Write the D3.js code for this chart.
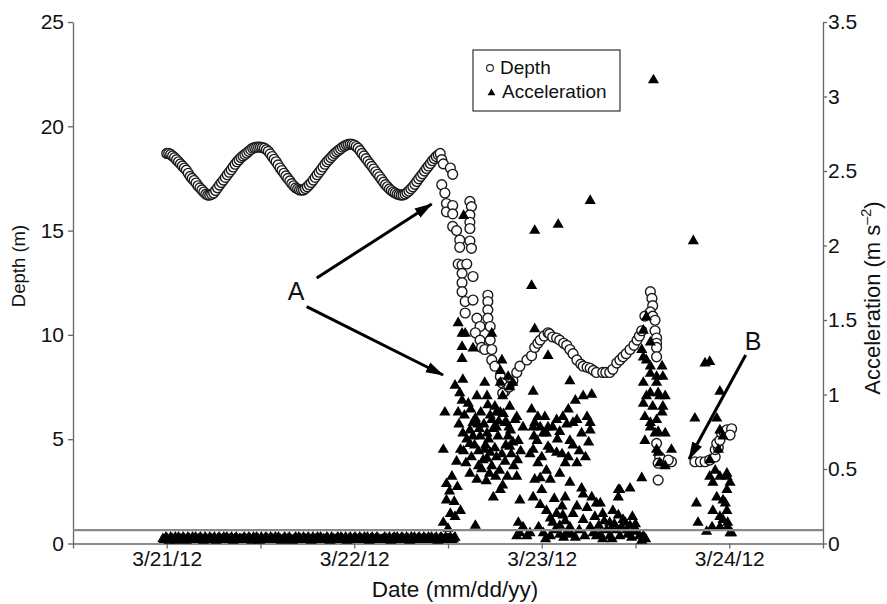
<!DOCTYPE html>
<html>
<head>
<meta charset="utf-8">
<script src="https://cdn.jsdelivr.net/npm/d3@7"></script>
<style>
  body { margin: 0; background: #fff; }
  text { font-family: "Liberation Sans", Arial, Helvetica, sans-serif; fill: #111; }
</style>
</head>
<body>
<div id="wrapper"></div>
<script>
// hours after 3/21/12 00:00, depth in m
const depthTide = [
  [0,18.7],[0.25,18.7],[0.5,18.65],[0.75,18.58],[1,18.5],[1.25,18.4],[1.5,18.3],[1.75,18.2],[2,18.1],[2.25,18.0],
  [2.5,17.9],[2.75,17.75],[3,17.6],[3.25,17.5],[3.5,17.4],[3.75,17.28],[4,17.15],[4.25,17.05],[4.5,16.95],[4.75,16.85],
  [5,16.75],[5.25,16.7],[5.5,16.7],[5.75,16.74],[6,16.8],[6.25,16.92],[6.5,17.05],[6.75,17.18],[7,17.3],[7.25,17.42],
  [7.5,17.55],[7.75,17.68],[8,17.8],[8.25,17.92],[8.5,18.05],[8.75,18.18],[9,18.3],[9.25,18.4],[9.5,18.5],[9.75,18.58],
  [10,18.65],[10.25,18.72],[10.5,18.8],[10.75,18.88],[11,18.95],[11.25,18.98],[11.5,19.0],[11.75,19.0],[12,19.0],[12.25,18.98],
  [12.5,18.95],[12.75,18.88],[13,18.8],[13.25,18.68],[13.5,18.55],[13.75,18.42],[14,18.3],[14.25,18.15],[14.5,18.0],[14.75,17.88],
  [15,17.75],[15.25,17.62],[15.5,17.5],[15.75,17.38],[16,17.25],[16.25,17.15],[16.5,17.05],[16.75,17.0],[17,16.95],[17.25,16.94],
  [17.5,16.95],[17.75,17.02],[18,17.1],[18.25,17.2],[18.5,17.3],[18.75,17.42],[19,17.55],[19.25,17.68],[19.5,17.8],[19.75,17.92],
  [20,18.05],[20.25,18.18],[20.5,18.3],[20.75,18.4],[21,18.5],[21.25,18.6],[21.5,18.7],[21.75,18.78],[22,18.85],[22.25,18.92],
  [22.5,19.0],[22.75,19.05],[23,19.1],[23.25,19.13],[23.5,19.15],[23.75,19.14],[24,19.1],[24.25,19.03],[24.5,18.95],[24.75,18.83],
  [25,18.7],[25.25,18.58],[25.5,18.45],[25.75,18.32],[26,18.2],[26.25,18.08],[26.5,17.95],[26.75,17.82],[27,17.7],[27.25,17.58],
  [27.5,17.45],[27.75,17.32],[28,17.2],[28.25,17.1],[28.5,17.0],[28.75,16.92],[29,16.85],[29.25,16.8],[29.5,16.75],[29.75,16.72],
  [30,16.7],[30.25,16.71],[30.5,16.75],[30.75,16.82],[31,16.9],[31.25,17.0],[31.5,17.1],[31.75,17.22],[32,17.35],[32.25,17.48],
  [32.5,17.6],[32.75,17.72],[33,17.85],[33.25,17.98],[33.5,18.1],[33.75,18.22],[34,18.35],[34.25,18.45],[34.5,18.55],[34.75,18.63],[35,18.7]
];
const depthDrop = [
  [35.2,18.4],[35.4,18.2],[36.3,18.0],[36.6,17.7],[35.2,17.2],[35.6,16.8],[35.8,16.3],[35.8,15.9],[36.6,16.2],[36.6,15.8],
  [38.8,16.4],[39.0,16.15],[38.8,15.75],[38.8,15.4],[38.8,15.1],
  [36.6,15.2],[37.1,15.0],[37.5,14.55],[37.5,14.2],[37.3,13.4],[37.8,13.35],[38.4,13.4],[38.8,14.5],[39.0,14.15],[39.2,12.8],
  [37.8,12.95],[37.8,12.5],[37.8,12.07],[38.2,11.6],[38.2,11.05],[39.2,11.67],
  [41.1,11.9],[41.1,11.6],[41.1,11.2],[41.1,10.8],[41.4,10.4],
  [39.7,10.8],[40.1,10.4],[39.5,10.1],[40.1,9.75],[40.3,9.4],[40.7,9.3],[41.4,9.75],[41.6,9.3],[41.6,8.8],[42.0,8.5],
  [42.7,8.0],[42.9,7.7],[43.3,7.3],[43.0,7.2],[43.8,7.5],[44.3,7.8]
];
const depthHump = [
  [44.8,8.2],[45.2,8.5],[46.1,8.8],[46.7,9.0],[47.1,9.4],[47.5,9.6],[47.8,9.75],[48.3,9.95],[48.8,10.1],[49.0,10.05],
  [49.4,9.9],[49.9,9.85],[50.3,9.75],[50.8,9.6],[51.2,9.5],[51.6,9.3],[52.0,9.1],[52.5,8.8],[53.0,8.6],[53.3,8.5],
  [53.8,8.45],[54.2,8.4],[54.6,8.3],[55.0,8.2],[55.8,8.2],[56.2,8.2],[56.7,8.2],[57.1,8.35],[57.6,8.65],[58.0,8.8],
  [58.4,8.95],[58.8,9.1],[59.3,9.3],[59.8,9.5],[60.2,9.75],[60.5,9.95],[60.8,10.2],[61.2,10.9],[61.9,12.07],[62.1,11.75],
  [62.2,11.4],[61.9,11.1],[62.2,10.9],[62.5,10.7],[62.5,10.2],[62.7,9.85],[62.7,9.6],[62.7,9.4],[62.7,8.95]
];
const depthLate = [
  [62.7,4.8],[63.1,4.15],[62.9,3.85],[64.6,3.92],[64.2,4.0],[62.9,3.04],
  [67.6,3.92],[68.3,3.92],[68.9,3.92],[69.5,4.0],[70.2,4.15],[70.2,4.5],[70.6,4.6],[70.4,4.8],[70.8,4.95],
  [71.0,5.3],[71.3,5.35],[71.7,5.45],[72.3,5.5],[72.1,5.2]
];

// acceleration (m s-2): low band before the event, then the burst
const bandHours = [
  -0.5,-0.3,-0.1,0.1,0.3,0.5,0.7,0.9,1.1,1.3, 1.5,1.7,1.9,2.1,2.3,2.5,2.7,2.9,3.1,3.3,
  3.5,3.7,3.9,4.1,4.3,4.5,4.7,4.9,5.1,5.3, 5.5,5.7,5.9,6.1,6.3,6.5,6.7,6.9,7.1,7.3,
  7.5,7.7,7.9,8.1,8.3,8.5,8.7,8.9,9.1,9.3, 9.5,9.7,9.9,10.1,10.3,10.5,10.7,10.9,11.1,11.3,
  11.5,11.7,11.9,12.1,12.3,12.5,12.7,12.9,13.1,13.3, 13.5,13.7,13.9,14.1,14.3,14.5,14.7,14.9,15.1,15.3,
  15.5,15.7,15.9,16.1,16.3,16.5,16.7,16.9,17.1,17.3, 17.5,17.7,17.9,18.1,18.3,18.5,18.7,18.9,19.1,19.3,
  19.5,19.7,19.9,20.1,20.3,20.5,20.7,20.9,21.1,21.3, 21.5,21.7,21.9,22.1,22.3,22.5,22.7,22.9,23.1,23.3,
  23.5,23.7,23.9,24.1,24.3,24.5,24.7,24.9,25.1,25.3, 25.5,25.7,25.9,26.1,26.3,26.5,26.7,26.9,27.1,27.3,
  27.5,27.7,27.9,28.1,28.3,28.5,28.7,28.9,29.1,29.3, 29.5,29.7,29.9,30.1,30.3,30.5,30.7,30.9,31.1,31.3,
  31.5,31.7,31.9,32.1,32.3,32.5,32.7,32.9,33.1,33.3, 33.5,33.7,33.9,34.1,34.3,34.5,34.7,34.9,35.1,35.3,
  35.5,35.7,35.9,36.1,36.3,36.5,36.7,36.9
];
const bandAccel = [
  0.03,0.025,0.04,0.03,0.02,0.04,0.03,0.025,0.04,0.02, 0.04,0.03,0.025,0.04,0.03,0.02,0.04,0.03,0.025,0.04,
  0.03,0.04,0.025,0.03,0.04,0.03,0.02,0.04,0.03,0.025, 0.04,0.03,0.025,0.04,0.02,0.03,0.04,0.03,0.025,0.04,
  0.03,0.04,0.025,0.03,0.04,0.02,0.03,0.04,0.025,0.03, 0.03,0.025,0.04,0.03,0.025,0.04,0.03,0.02,0.04,0.03,
  0.04,0.03,0.02,0.04,0.025,0.03,0.04,0.03,0.025,0.04, 0.03,0.025,0.04,0.03,0.04,0.03,0.02,0.03,0.04,0.025,
  0.03,0.04,0.025,0.02,0.03,0.04,0.025,0.04,0.03,0.025, 0.04,0.03,0.025,0.04,0.03,0.02,0.04,0.025,0.03,0.04,
  0.03,0.04,0.025,0.03,0.025,0.04,0.03,0.02,0.04,0.03, 0.025,0.03,0.04,0.025,0.04,0.03,0.025,0.04,0.02,0.03,
  0.04,0.025,0.03,0.04,0.03,0.025,0.04,0.03,0.025,0.04, 0.03,0.04,0.02,0.03,0.04,0.025,0.03,0.04,0.03,0.025,
  0.025,0.03,0.04,0.03,0.025,0.04,0.02,0.03,0.04,0.03, 0.04,0.025,0.03,0.04,0.03,0.025,0.04,0.03,0.02,0.04,
  0.03,0.04,0.025,0.03,0.04,0.03,0.025,0.04,0.03,0.025, 0.04,0.03,0.04,0.025,0.03,0.04,0.02,0.03,0.04,0.03,
  0.025,0.04,0.03,0.03,0.04,0.025,0.03,0.04
];
const accelBurst = [
  [62.3,3.11],[67.4,2.03],[54.2,2.30],[50.1,2.14],[47.1,2.10],[38.0,2.20],
  [46.7,1.73],[47.1,1.44],[48.8,1.26],[51.6,1.09],[68.9,1.21],[69.5,1.22],
  [37.3,1.48],[37.8,1.41],[37.8,1.32],[37.8,1.24],[38.2,1.41],[39.2,1.31],[41.6,1.41],[42.9,1.23],[42.7,1.16],
  [36.9,1.06],[37.9,1.10],[37.5,1.01],[37.8,0.96],[35.6,0.88],[37.3,0.88],[38.6,0.94],[39.7,0.99],[41.0,0.99],
  [40.7,1.08],[41.1,0.93],[42.7,1.08],[43.7,1.12],[43.9,1.05],[44.3,1.08],[43.0,0.99],[43.9,0.92],[42.7,0.88],
  [41.6,0.83],[44.8,0.85],[43.3,0.81],[42.2,0.88],
  [46.9,1.02],[46.7,0.90],[47.5,0.85],[48.4,0.85],[47.1,0.81],[48.8,0.78],[49.9,0.83],[50.7,0.85],[51.4,0.90],
  [52.3,0.96],[53.3,0.99],[54.4,1.00],[52.5,0.83],[53.8,0.85],[54.2,0.81],[51.2,0.80],
  [39.8,0.80],[39.2,0.81],[38.8,0.76],[41.0,0.74],[42.2,0.78],[43.5,0.81],[44.6,0.83],[46.9,0.78],[47.8,0.78],
  [48.6,0.74],[49.4,0.78],[50.3,0.75],[52.0,0.81],
  [37.1,0.55],[38.8,0.47],[39.7,0.43],[41.8,0.31],[42.7,0.36],[43.0,0.39],[44.8,0.45],[40.5,0.56],[41.4,0.61],
  [42.2,0.58],[43.9,0.65],[45.0,0.69],[38.8,0.67],[40.1,0.72],[37.9,0.74],[36.3,0.20],[36.9,0.18],[39.5,0.12],
  [45.2,0.29],[46.9,0.31],[45.0,0.14],[45.6,0.11],[45.2,0.07],[46.5,0.07],[46.1,0.05],[44.8,0.05],
  [38.0,0.62],[38.4,0.70],[39.0,0.58],[39.4,0.66],[39.9,0.62],[40.3,0.50],[40.8,0.66],[41.2,0.70],[41.6,0.52],
  [42.0,0.64],[42.4,0.72],[42.9,0.60],[43.3,0.55],[43.7,0.72],[44.1,0.60],[44.4,0.52],[44.0,0.76],[40.0,0.77],
  [41.8,0.77],[39.2,0.72],[42.6,0.49],[43.6,0.45],[40.9,0.42],[41.3,0.47],
  [37.4,0.80],[38.1,0.86],[38.9,0.90],[39.5,0.84],[40.2,0.88],[40.6,0.80],[41.4,0.86],[42.0,0.92],[42.5,0.82],
  [43.1,0.87],[43.8,0.78],[44.3,0.68],[45.3,0.62],[45.6,0.78],[38.3,0.54],[39.9,0.52],[41.0,0.57],[42.1,0.45],
  [44.9,0.56],[37.6,0.63],[40.7,0.63],[43.4,0.66],
  [47.4,0.69],[48.2,0.74],[46.9,0.63],[49.1,0.63],[49.9,0.61],[47.5,0.54],[48.6,0.49],[50.3,0.47],[49.1,0.43],
  [47.8,0.44],[47.1,0.43],[51.0,0.54],[52.5,0.54],[51.6,0.69],[53.1,0.74],[54.2,0.76],[51.0,0.31],[51.6,0.41],
  [53.1,0.37],[53.3,0.33],[54.4,0.31],[47.8,0.26],[48.6,0.22],[49.1,0.17],[49.9,0.20],[50.7,0.19],[52.5,0.25],
  [55.0,0.27],[49.4,0.14],[50.3,0.12],[51.6,0.11],[53.3,0.16],[54.2,0.11],[52.3,0.04],[51.2,0.07],[48.2,0.07],
  [49.1,0.05],[50.3,0.06],[48.5,0.03],[50.8,0.04],[51.8,0.06],
  [48.0,0.58],[48.8,0.65],[50.0,0.70],[50.6,0.60],[51.4,0.58],[52.0,0.66],[52.8,0.62],[53.6,0.58],[54.0,0.68],
  [46.5,0.60],[47.0,0.72],[48.0,0.36],[49.6,0.30],[50.6,0.25],[52.0,0.20],[53.8,0.24],[54.8,0.18],[51.0,0.15],
  [52.8,0.09],[54.6,0.07],[53.5,0.05],[49.7,0.09],[47.6,0.11],
  [35.4,0.63],[35.8,0.40],[35.8,0.29],[35.4,0.14],[36.5,0.45],[36.2,0.35],[36.8,0.28],[37.2,0.38],[36.0,0.10],[37.6,0.22],
  [55.8,0.20],[57.1,0.22],[57.8,0.19],[58.4,0.16],[56.7,0.14],[59.3,0.12],[56.3,0.09],[57.6,0.09],[58.9,0.09],
  [60.2,0.08],[61.0,0.05],[55.0,0.05],[58.0,0.05],[59.5,0.04],[60.8,0.02],[56.7,0.05],[55.5,0.06],
  [55.3,0.12],[56.0,0.15],[56.9,0.10],[57.3,0.13],[58.2,0.11],[58.7,0.14],[59.0,0.06],[59.8,0.09],[60.5,0.05],
  [61.3,0.03],[57.0,0.03],[55.8,0.03],[60.0,0.13],[59.6,0.18],
  [57.8,0.36],[57.8,0.31],[59.3,0.37],[60.8,0.44],[58.0,0.36],[55.5,0.27],
  [61.4,1.52],[61.0,1.43],[60.8,1.30],[61.4,1.23],[63.4,1.19],[61.9,1.14],[62.7,1.12],[63.5,1.12],[61.0,1.08],
  [62.9,1.01],[61.4,0.99],[63.8,0.99],[61.0,0.94],[62.2,0.92],[63.5,0.92],[61.2,0.85],[61.9,0.81],[63.4,0.88],
  [62.9,0.75],[63.8,0.74],[61.2,0.69],[64.6,0.63],[62.9,0.61],[63.1,0.54],[63.8,0.52],[62.7,0.63],[62.5,0.74],
  [61.9,1.35],[61.0,1.25],[61.9,1.19],[62.7,1.08],[61.9,1.01],[63.1,0.99],[62.7,0.83],[61.9,0.78],
  [70.8,1.02],[67.6,0.84],[70.4,0.84],[70.8,0.76],[71.2,0.72],[70.6,0.63],[70.2,0.49],[70.8,0.45],[71.7,0.45],
  [69.9,0.41],[71.7,0.36],[70.4,0.31],[71.5,0.27],[69.9,0.22],[70.8,0.18],[71.8,0.14],[69.8,0.11],[72.1,0.07],
  [67.8,0.27],[68.0,0.14],[69.1,0.08],[69.5,0.56],[69.5,0.45],[71.7,0.47],[72.1,0.41],[71.2,0.29],[71.7,0.22],
  [71.2,0.16],[72.3,0.07],[71.8,0.11],[70.8,0.11]
];
const accelThreshold = 0.09;

const depthTicks = [0, 5, 10, 15, 20, 25];
const accelTicks = [0, 0.5, 1, 1.5, 2, 2.5, 3, 3.5];

const day0 = new Date(2012, 2, 21, 0, 0);
const toDate = (h) => new Date(day0.getTime() + h * 3600e3);

const dimension = {
  width: 887,
  height: 604,
  margin: { top: 22, right: 64, bottom: 60.5, left: 73 }
};
dimension.boundedWidth = dimension.width - dimension.margin.left - dimension.margin.right;
dimension.boundedHeight = dimension.height - dimension.margin.top - dimension.margin.bottom;

const svg = d3.select("#wrapper").append("svg")
  .attr("width", dimension.width)
  .attr("height", dimension.height);

const bounded = svg.append("g")
  .attr("transform", `translate(${dimension.margin.left},${dimension.margin.top})`);

const xScaler = d3.scaleTime()
  .domain([new Date(2012, 2, 20, 12), new Date(2012, 2, 24, 12)])
  .range([0, dimension.boundedWidth]);
const depthScaler = d3.scaleLinear().domain([0, 25]).range([dimension.boundedHeight, 0]);
const accelScaler = d3.scaleLinear().domain([0, 3.5]).range([dimension.boundedHeight, 0]);

// axes
const axisColor = "#666";
const fmt = d3.timeFormat("%-m/%-d/%y");
const xAxis = d3.axisBottom(xScaler)
  .ticks(d3.timeHour.every(12))
  .tickFormat(d => d.getHours() === 0 ? fmt(d) : "")
  .tickSizeInner(5).tickSizeOuter(0).tickPadding(3);
const yAxis = d3.axisLeft(depthScaler)
  .tickValues(depthTicks).tickSizeInner(5).tickSizeOuter(0).tickPadding(4);
const y2Axis = d3.axisRight(accelScaler)
  .tickValues(accelTicks).tickFormat(d3.format("")).tickSizeInner(4).tickSizeOuter(0).tickPadding(1);

function styleAxis(g) {
  g.selectAll("path, line").attr("stroke", axisColor).attr("stroke-width", 1.3);
  g.selectAll("text").attr("font-size", 21).attr("fill", "#111")
    .attr("font-family", '"Liberation Sans", Arial, Helvetica, sans-serif');
}

bounded.append("g").attr("transform", `translate(0,${dimension.boundedHeight})`).call(xAxis).call(styleAxis);
bounded.append("g").call(yAxis).call(styleAxis);
bounded.append("g").attr("transform", `translate(${dimension.boundedWidth},0)`).call(y2Axis).call(styleAxis);

// depth circles
const depthAll = [...depthTide, ...depthDrop, ...depthHump, ...depthLate];
bounded.append("g").selectAll("circle")
  .data(depthAll)
  .join("circle")
  .attr("cx", d => xScaler(toDate(d[0])))
  .attr("cy", d => depthScaler(d[1]))
  .attr("r", 4.9)
  .attr("fill", "#fff")
  .attr("stroke", "#1a1a1a")
  .attr("stroke-width", 1.4);

// acceleration triangles
const band = bandHours.map((h, i) => [h, bandAccel[i]]);
const accelAll = [...band, ...accelBurst];
const tri = d3.symbol().type(d3.symbolTriangle).size(54);
bounded.append("g").selectAll("path")
  .data(accelAll)
  .join("path")
  .attr("d", tri)
  .attr("transform", d => `translate(${xScaler(toDate(d[0]))},${accelScaler(d[1])})`)
  .attr("fill", "#000");

// threshold line
bounded.append("line")
  .attr("x1", 0).attr("x2", dimension.boundedWidth)
  .attr("y1", accelScaler(accelThreshold)).attr("y2", accelScaler(accelThreshold))
  .attr("stroke", "#8a8a8a").attr("stroke-width", 2.4);

// axis titles
svg.append("text")
  .attr("x", 455).attr("y", 597)
  .attr("text-anchor", "middle").attr("font-size", 22.5)
  .text("Date (mm/dd/yy)");
svg.append("text")
  .attr("transform", "translate(25,266) rotate(-90)")
  .attr("text-anchor", "middle").attr("font-size", 18.5)
  .text("Depth (m)");
const rt = svg.append("text")
  .attr("transform", "translate(880,298) rotate(-90)")
  .attr("text-anchor", "middle").attr("font-size", 22);
rt.append("tspan").text("Acceleration (m s");
rt.append("tspan").attr("font-size", 14.5).attr("dy", -9).text("–2");
rt.append("tspan").attr("dy", 9).text(")");

// legend
const legend = svg.append("g");
legend.append("rect").attr("x", 473).attr("y", 50).attr("width", 147).attr("height", 61)
  .attr("fill", "#fff").attr("stroke", "#333").attr("stroke-width", 1.2);
legend.append("circle").attr("cx", 490).attr("cy", 68).attr("r", 3.4)
  .attr("fill", "#fff").attr("stroke", "#222").attr("stroke-width", 1.1);
legend.append("path").attr("d", d3.symbol().type(d3.symbolTriangle).size(26))
  .attr("transform", "translate(491.5,93)").attr("fill", "#000");
legend.append("text").attr("x", 500).attr("y", 74).attr("font-size", 19).text("Depth");
legend.append("text").attr("x", 502).attr("y", 98).attr("font-size", 19).text("Acceleration");

// annotations
const defs = svg.append("defs");
defs.append("marker").attr("id", "head")
  .attr("markerUnits", "userSpaceOnUse")
  .attr("viewBox", "0 -6 18 12").attr("refX", 17).attr("refY", 0)
  .attr("markerWidth", 18).attr("markerHeight", 12).attr("orient", "auto")
  .append("path").attr("d", "M0,-5.5L18,0L0,5.5Z").attr("fill", "#000");

const arrows = [
  [316.7, 278, 431.7, 204],
  [306.7, 306.7, 443, 375],
  [745.7, 355, 689, 459]
];
svg.append("g").selectAll("line").data(arrows).join("line")
  .attr("x1", d => d[0]).attr("y1", d => d[1]).attr("x2", d => d[2]).attr("y2", d => d[3])
  .attr("stroke", "#000").attr("stroke-width", 3).attr("marker-end", "url(#head)");

svg.append("text").attr("x", 296).attr("y", 300).attr("text-anchor", "middle").attr("font-size", 25).text("A");
svg.append("text").attr("x", 753).attr("y", 350).attr("text-anchor", "middle").attr("font-size", 25).text("B");
</script>
</body>
</html>
